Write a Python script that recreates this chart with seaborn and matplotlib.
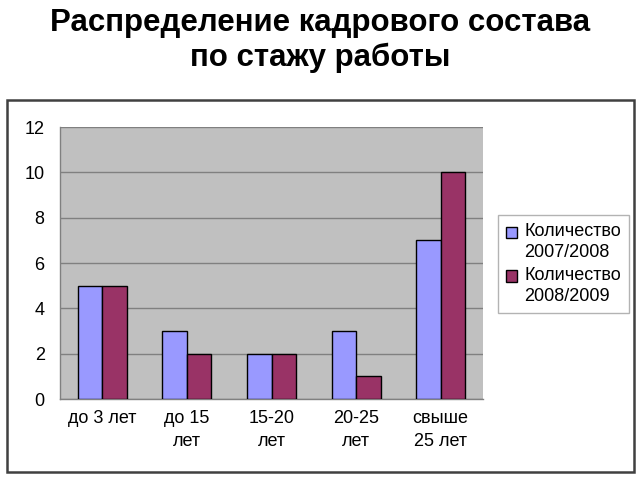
import matplotlib
matplotlib.use("Agg")
import matplotlib.pyplot as plt
import seaborn as sns
import pandas as pd
import numpy as np
from matplotlib.patches import Rectangle
from matplotlib.legend_handler import HandlerPatch

categories = ["до 3 лет", "до 15\nлет", "15-20\nлет", "20-25\nлет", "свыше\n25 лет"]
series_names = ["Количество\n2007/2008", "Количество\n2008/2009"]
values_2007 = [5, 3, 2, 3, 7]
values_2008 = [5, 2, 2, 1, 10]
y_ticks = [0, 2, 4, 6, 8, 10, 12]
title = "Распределение кадрового состава\nпо стажу работы"

df = pd.DataFrame({
    "cat": categories * 2,
    "series": [series_names[0]] * len(categories) + [series_names[1]] * len(categories),
    "value": values_2007 + values_2008,
})

sns.set_style("white")
plt.rcParams['font.family'] = ['Liberation Sans', 'DejaVu Sans']
plt.rcParams['text.color'] = 'black'
plt.rcParams['xtick.color'] = 'black'
plt.rcParams['ytick.color'] = 'black'


class TopSquareHandler(HandlerPatch):
    def create_artists(self, legend, orig_handle, xdescent, ydescent,
                       width, height, fontsize, trans):
        size = 0.62 * fontsize
        r = Rectangle((-xdescent, -ydescent + height - size * 0.8), size, size,
                      facecolor=orig_handle.get_facecolor(),
                      edgecolor="black", linewidth=1, transform=trans)
        return [r]


fig = plt.figure(figsize=(6.4, 4.8), dpi=100)
ax = fig.add_axes([60/640, 1-399/480, 423/640, 272/480])

sns.barplot(data=df, x="cat", y="value", hue="series", order=categories,
            hue_order=series_names, palette=["#9999FF", "#993366"],
            saturation=1, width=0.58, edgecolor="black", linewidth=1,
            ax=ax, zorder=3, legend=True)

ax.set_facecolor("#C0C0C0")
ax.set_ylim(0, 12)
ax.set_xlim(-0.5, len(categories) - 0.5)
ax.set_yticks(y_ticks)
ax.set_yticklabels([str(v) for v in y_ticks], fontsize=13)
ax.yaxis.grid(True, color="#808080", linewidth=1, zorder=0)
ax.set_axisbelow(True)

ax.set_xticks(np.arange(-0.5, len(categories), 1.0))
ax.set_xticklabels([""] * (len(categories) + 1))
ax.set_xticks(np.arange(len(categories)), minor=True)
ax.set_xticklabels(categories, minor=True, fontsize=13, linespacing=1.45)
ax.tick_params(axis="x", which="major", length=5, color="#808080", direction="out")
ax.tick_params(axis="x", which="minor", length=0, pad=8)
ax.tick_params(axis="y", length=5, color="#808080", direction="out", pad=6)
ax.set_xlabel("")
ax.set_ylabel("")
for s in ["top", "right"]:
    ax.spines[s].set_visible(False)
for s in ["left", "bottom"]:
    ax.spines[s].set_color("#808080")
    ax.spines[s].set_linewidth(1)

handles, labels = ax.get_legend_handles_labels()
ax.get_legend().remove()
leg = ax.legend(handles, labels, loc="upper left",
                bbox_to_anchor=(498/640, 1-215/480),
                bbox_transform=fig.transFigure, fontsize=13, frameon=True,
                fancybox=False, edgecolor="#A0A0A0", handlelength=0.7,
                handleheight=2.0, handletextpad=0.3, borderpad=0.45,
                labelspacing=0.35, borderaxespad=0,
                handler_map={type(handles[0]): TopSquareHandler()})
leg.get_frame().set_linewidth(1)
for t in leg.get_texts():
    t.set_linespacing(1.28)

fig.add_artist(Rectangle((7/640, 1-472/480), 627/640, 372/480,
                         transform=fig.transFigure, fill=False,
                         edgecolor="#404040", linewidth=1.8))

fig.text(0.5, 1-8/480, title, ha="center", va="top", fontsize=22.5,
         fontweight="bold", linespacing=1.2)

fig.savefig("out.png", dpi=100)
